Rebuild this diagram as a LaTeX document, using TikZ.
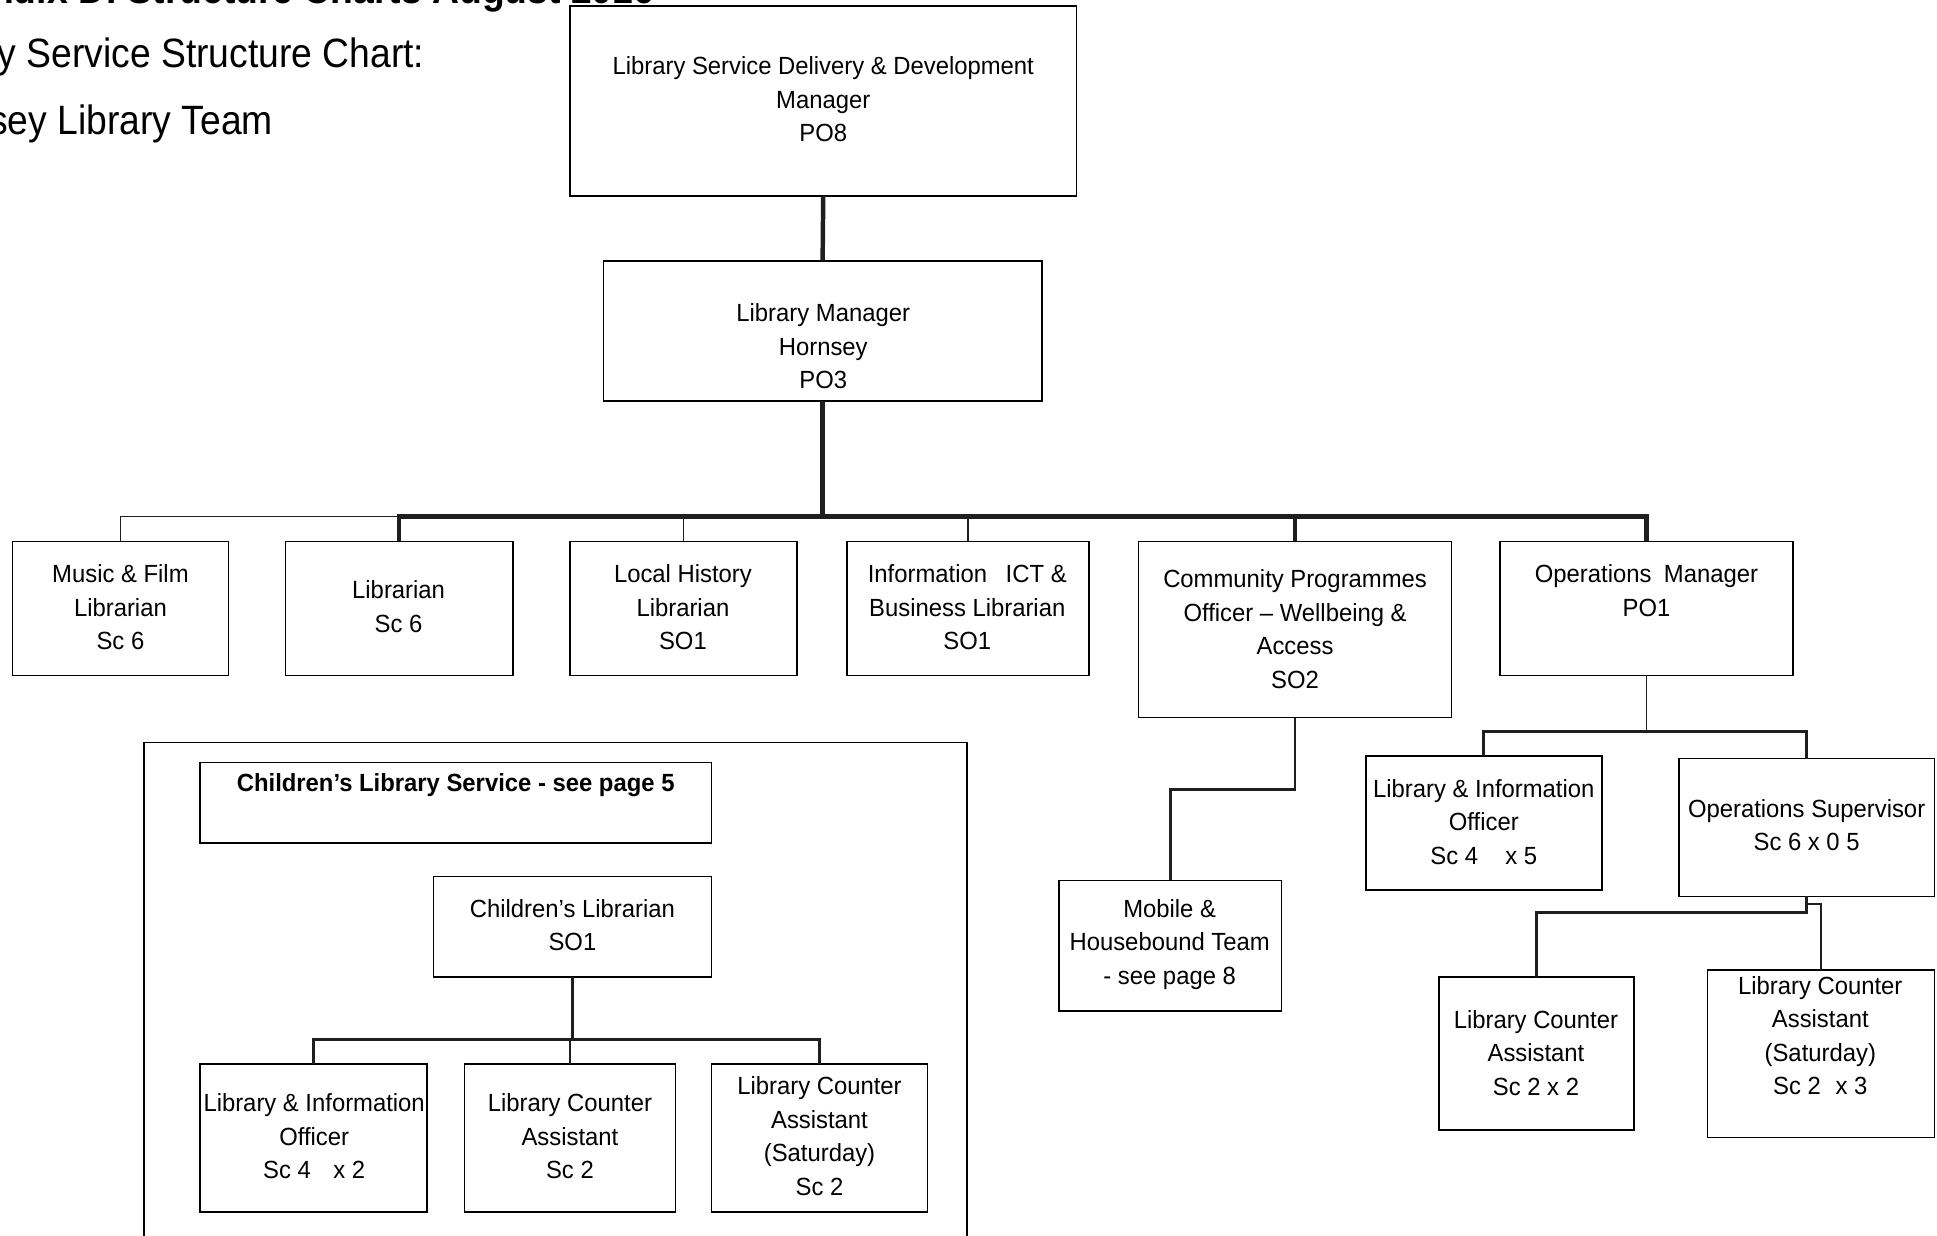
\documentclass[tikz,border=0pt]{standalone}
\usepackage{fontspec}
\setmainfont{Liberation Sans}[FakeStretch=0.96]
\newfontfamily\ttlfam{Liberation Sans}[FakeStretch=0.91]
\newcommand\bxfont{\fontsize{20}{27}\selectfont}
\newcommand\ttlfont{\ttlfam\fontsize{33}{40}\selectfont}
\newcommand\orgbox[5]{% name, x1, y1, x2, y2
  \node[bx, minimum width={(#4-#2)*1pt}, minimum height={(#5-#3)*1pt}] (#1) at ({(#2+#4)/2},{(#3+#5)/2}) {};}
\tikzset{
  bx/.style={draw=black, line width=1.3pt, inner sep=0pt, outer sep=0pt, fill=white},
  tx/.style={align=center, inner sep=0pt, font=\bxfont},
  ttl/.style={anchor=base east, inner sep=0pt, font=\ttlfont},
  thk/.style={line width=3.6pt, draw=black!88},
  med/.style={line width=2.2pt, draw=black!88},
  thn/.style={line width=1.2pt, draw=black!88},
}
\begin{document}
\begin{tikzpicture}[x=1pt,y=-1pt]
\useasboundingbox (0,0) rectangle (1560,995.4);
% titles (partly cut by page edge)
\node[ttl, font=\ttlfont\bfseries] (title1) at (527,2.7) {Appendix D: Structure Charts August 2016};
\node[ttl] (title2) at (342,54) {Library Service Structure Chart:};
\node[ttl] (title3) at (220,108) {Hornsey Library Team};
% children's enclosing box (open at bottom)
\draw[line width=1.3pt] (116,1005) -- (116,598) -- (779,598) -- (779,1005);
% boxes
\orgbox{top}{459}{5}{867}{158}
\orgbox{lm}{486}{210}{839}{323}
\orgbox{mus}{10}{436}{184}{544}
\orgbox{lib}{230}{436}{413}{544}
\orgbox{loc}{459}{436}{642}{544}
\orgbox{ict}{682}{436}{877}{544}
\orgbox{com}{917}{436}{1169}{578}
\orgbox{opm}{1208}{436}{1444}{544}
\orgbox{mob}{853}{709}{1032}{814}
\orgbox{lio}{1100}{609}{1290}{717}
\orgbox{ops}{1352}{611}{1558}{722}
\orgbox{lca}{1159}{787}{1316}{910}
\orgbox{lcas}{1375}{781}{1558}{916}
\orgbox{cls}{161}{614}{573}{679}
\orgbox{cl}{349}{706}{573}{787}
\orgbox{clio}{161}{857}{344}{976}
\orgbox{clca}{374}{857}{544}{976}
\orgbox{clsat}{573}{857}{747}{976}
% texts
\node[tx] (ttop) at (663,80) {Library Service Delivery \& Development\\Manager\\PO8};
\node[tx] (tlm) at (663,279) {Library Manager\\Hornsey\\PO3};
\node[tx] (tmus) at (97,489) {Music \& Film\\Librarian\\Sc 6};
\node[tx] (tlib) at (321,488.5) {Librarian\\Sc 6};
\node[tx] (tloc) at (550,489) {Local History\\Librarian\\SO1};
\node[tx] (tict) at (779,489) {Information\hspace*{0.75em}ICT \&\\Business Librarian\\SO1};
\node[tx] (tcom) at (1043,506.5) {Community Programmes\\Officer -- Wellbeing \&\\Access\\SO2};
\node[tx] (topm) at (1326,475.5) {Operations\hspace*{0.5em}Manager\\PO1};
\node[tx] (tmob) at (942,760.5) {Mobile \&\\Housebound Team\\- see page 8};
\node[tx] (tlio) at (1195,662) {Library \& Information\\Officer\\Sc 4\hspace*{1.1em}x 5};
\node[tx] (tops) at (1455,664.5) {Operations Supervisor\\Sc 6 x 0 5};
\node[tx] (tlca) at (1237,848) {Library Counter\\Assistant\\Sc 2 x 2};
\node[tx] (tlcas) at (1466,834) {Library Counter\\Assistant\\(Saturday)\\Sc 2\hspace*{0.6em}x 3};
\node[tx, font=\bxfont\bfseries] (tcls) at (367,632) {Children’s Library Service - see page 5};
\node[tx] (tcl) at (461,745) {Children’s Librarian\\SO1};
\node[tx] (tclio) at (253,915) {Library \& Information\\Officer\\Sc 4\hspace*{0.9em}x 2};
\node[tx] (tclca) at (459,915) {Library Counter\\Assistant\\Sc 2};
\node[tx] (tclsat) at (660,915) {Library Counter\\Assistant\\(Saturday)\\Sc 2};
% connector levels
\coordinate (busy) at (0,416);
\coordinate (cmy) at (0,636);
\coordinate (opy) at (0,589);
\coordinate (sy1) at (0,728);
\coordinate (sy2) at (0,735);
\coordinate (cy) at (0,837);
% connectors
\draw[thk] (top.south) -- (lm.north);
\draw[thn] (mus.north) -- (mus.north |- busy) -- (lib.north |- busy);
\draw[thn] (loc.north) -- (loc.north |- busy);
\draw[thn] (ict.north) -- (ict.north |- busy);
\draw[thk] (lm.south) -- (lm.south |- busy);
\draw[thk] (lib.north) -- (lib.north |- busy) -- (opm.north |- busy) -- (opm.north);
\draw[thk] (com.north) -- (com.north |- busy);
\draw[med] (com.south) -- (com.south |- cmy) -| (mob.north);
\draw[thn] (opm.south) -- (opm.south |- opy);
\draw[med] (lio.north) -- (lio.north |- opy) -- (ops.north |- opy) -- (ops.north);
\draw[med] (ops.south) -- (ops.south |- sy2) -| (lca.north);
\draw[med] (ops.south |- sy1) -| (lcas.north);
\draw[med] (cl.south) -- (cl.south |- cy);
\draw[med] (clio.north) -- (clio.north |- cy) -- (clsat.north |- cy) -- (clsat.north);
\draw[med] (clca.north) -- (clca.north |- cy);
\end{tikzpicture}
\end{document}
